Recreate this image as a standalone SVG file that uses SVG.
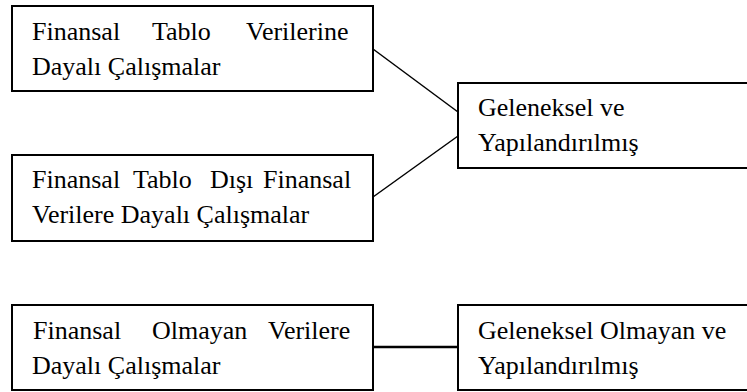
<svg xmlns="http://www.w3.org/2000/svg" width="747" height="392" viewBox="0 0 747 392">
<style>
.box{fill:#fff;stroke:#000;stroke-width:2}
.t{font-family:"Liberation Serif","Times New Roman",serif;font-size:26px;fill:#000}
.c{stroke:#000;stroke-width:1.5;fill:none}
</style>
<rect width="747" height="392" fill="#fff"/>
<g id="connectors">
<line class="c" x1="373" y1="49" x2="458" y2="112"/>
<line class="c" x1="373" y1="197" x2="458" y2="136"/>
<line class="c" x1="373" y1="347" x2="458" y2="347" style="stroke-width:2.5"/>
</g>
<g id="n1">
<rect class="box" x="12" y="6" width="361" height="85"/>
<text class="t" font-family="Liberation Serif, serif" y="40"><tspan x="32">Finansal</tspan><tspan x="152">Tablo</tspan><tspan x="246">Verilerine</tspan></text>
<text class="t" font-family="Liberation Serif, serif" x="32" y="75">Dayalı Çalışmalar</text>
</g>
<g id="n2">
<rect class="box" x="12" y="155" width="361" height="86"/>
<text class="t" font-family="Liberation Serif, serif" y="188"><tspan x="32">Finansal</tspan><tspan x="133">Tablo</tspan><tspan x="210">Dışı</tspan><tspan x="263">Finansal</tspan></text>
<text class="t" font-family="Liberation Serif, serif" x="32" y="223">Verilere Dayalı Çalışmalar</text>
</g>
<g id="n3">
<rect class="box" x="458" y="83" width="292" height="85"/>
<text class="t" font-family="Liberation Serif, serif" x="478" y="116">Geleneksel ve</text>
<text class="t" font-family="Liberation Serif, serif" x="478" y="151">Yapılandırılmış</text>
</g>
<g id="n4">
<rect class="box" x="12" y="305" width="361" height="85"/>
<text class="t" font-family="Liberation Serif, serif" y="339"><tspan x="33">Finansal</tspan><tspan x="152">Olmayan</tspan><tspan x="268">Verilere</tspan></text>
<text class="t" font-family="Liberation Serif, serif" x="32" y="374">Dayalı Çalışmalar</text>
</g>
<g id="n5">
<rect class="box" x="458" y="305" width="292" height="85"/>
<text class="t" font-family="Liberation Serif, serif" x="478" y="339">Geleneksel Olmayan ve</text>
<text class="t" font-family="Liberation Serif, serif" x="478" y="374">Yapılandırılmış</text>
</g>
</svg>
